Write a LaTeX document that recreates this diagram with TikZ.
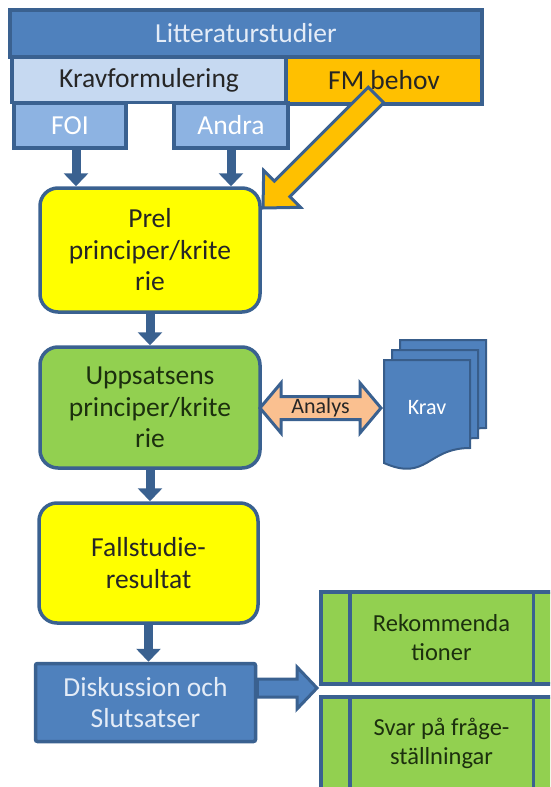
\documentclass[tikz,border=0pt]{standalone}
\usepackage{fontspec}
\setmainfont{Carlito}
\usetikzlibrary{arrows.meta}
\definecolor{bd}{HTML}{3A6190}
\definecolor{bd2}{HTML}{385D8A}
\definecolor{midblue}{HTML}{4F81BD}
\definecolor{paleblue}{HTML}{C6D9F1}
\definecolor{softblue}{HTML}{8DB3E2}
\definecolor{fmorange}{HTML}{FFC000}
\definecolor{ylw}{HTML}{FFFF00}
\definecolor{grn}{HTML}{92D050}
\definecolor{peach}{HTML}{FAC090}
\definecolor{lighttext}{HTML}{E4ECF7}
\definecolor{darktext}{HTML}{262626}
\definecolor{greentext}{HTML}{1C300E}
\begin{document}
\begin{tikzpicture}[x=1pt,y=-1pt,
  box/.style={draw=bd, line width=3.5pt, inner sep=0pt, align=center},
  rbox/.style={box, rounded corners=18pt},
  flow/.style={draw=bd, line width=9pt, -{Triangle[width=24pt,length=13pt]}},
  bigfont/.style={font=\fontsize{27.5}{31.5}\selectfont},
  midfont/.style={font=\fontsize{24.5}{29}\selectfont},
]
\useasboundingbox (0,0) rectangle (550,787);
\clip (0,0) rectangle (550,787);

% top block
\node[box, fill=midblue, text=lighttext, bigfont, minimum width=472pt, minimum height=47pt] (lit) at (246,33.5) {Litteraturstudier};
\node[box, fill=paleblue, text=darktext, bigfont, minimum width=274pt, minimum height=45pt] (krav) at (149,80) {Kravformulering};
\node[box, fill=fmorange, text=darktext, bigfont, minimum width=196pt, minimum height=47pt] (fm) at (384,80.5) {FM behov};
\node[box, fill=softblue, text=white, bigfont, minimum width=112pt, minimum height=45pt] (foi) at (70,125.5) {FOI};
\node[box, fill=softblue, text=white, bigfont, minimum width=114pt, minimum height=45pt] (andra) at (231,125.5) {Andra};

% main column
\node[rbox, fill=ylw, text=darktext, bigfont, minimum width=220pt, minimum height=124pt] (prel) at (150,250) {Prel\\principer/krite\\rie};
\node[rbox, fill=grn, text=greentext, bigfont, minimum width=220pt, minimum height=121pt] (upp) at (150,407.5) {Uppsatsens\\principer/krite\\rie};
\node[rbox, fill=ylw, text=darktext, bigfont, minimum width=219pt, minimum height=120pt] (fall) at (148.5,563) {Fallstudie-\\resultat};
\node[box, fill=midblue, text=lighttext, bigfont, minimum width=220pt, minimum height=78pt, rounded corners=2pt] (disk) at (145.5,702.5) {Diskussion och\\Slutsatser};

% green result boxes
\node[box, fill=grn, text=greentext, midfont, minimum width=241pt, minimum height=92pt] (rek) at (441.5,638) {Rekommenda\\tioner};
\node[box, fill=grn, text=greentext, midfont, minimum width=241pt, minimum height=93pt] (svar) at (441.5,743.5) {Svar på fråge-\\ställningar};
\foreach \n in {rek,svar}{
  \draw[bd, line width=3.5pt] ([xshift=30.7pt]\n.north west) -- ([xshift=30.7pt]\n.south west);
  \draw[bd, line width=3.5pt] ([xshift=-30.3pt]\n.north east) -- ([xshift=-30.3pt]\n.south east);
}

% flow arrows
\draw[flow] ([xshift=6pt]foi.south) -- ([xshift=6pt]foi.south |- prel.north);
\draw[flow] (andra.south) -- (andra.south |- prel.north);
\draw[flow] (prel.south) -- (prel.south |- upp.north);
\draw[flow] (upp.south) -- (upp.south |- fall.north);
\draw[flow] (fall.south) -- (fall.south |- disk.north);

% FM behov arrow
\draw[bd, line width=3pt, fill=fmorange, line join=miter]
  (368.2,87.2) -- (274.3,181.1) -- (263.7,170.5) -- (263,208) -- (300.5,207.3) -- (289.9,196.7) -- (383.8,102.8) -- cycle;

% Krav multi-document
\foreach \dx/\dy in {16/-20, 8/-10, 0/0}{
  \begin{scope}[shift={(384+\dx,360+\dy)}]
    \path[draw=bd2, line width=2pt, fill=midblue]
      (0,0) -- (86,0) -- (86,88) .. controls (43,88) and (43,122) .. (0,103) -- cycle;
  \end{scope}
}
\node[text=white, font=\fontsize{22}{26}\selectfont, inner sep=0pt] (kravdoc) at (427,408) {Krav};

% Analys double arrow
\draw[bd, line width=3pt, fill=peach, line join=miter]
  (260,408) -- (281,383) -- (281,396.5) -- (360,396.5) -- (360,383) -- (381,408)
  -- (360,433) -- (360,419.5) -- (281,419.5) -- (281,433) -- cycle;
\node[text=darktext, font=\fontsize{22}{26}\selectfont, inner sep=0pt] (analys) at (320.5,408) {Analys};

% Diskussion -> results arrow
\draw[bd, line width=3pt, fill=midblue, line join=miter]
  (disk.east |- 0,679) -- (297,679) -- (297,667) -- (317,688) -- (297,709) -- (297,697) -- (disk.east |- 0,697) -- cycle;
\end{tikzpicture}
\end{document}
